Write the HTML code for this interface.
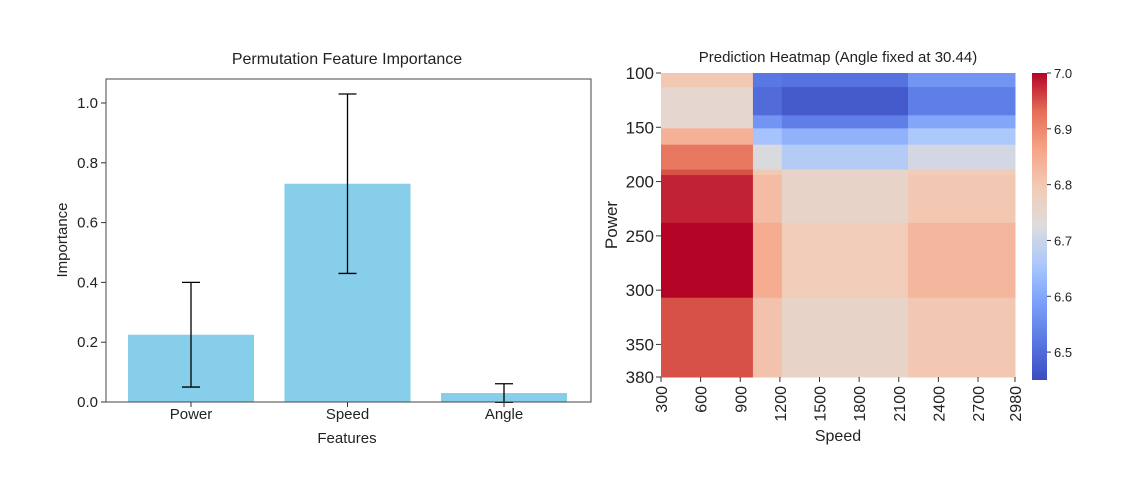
<!DOCTYPE html>
<html><head><meta charset="utf-8"><style>
body{margin:0;background:#fff;}
svg text{font-family:"Liberation Sans","DejaVu Sans",sans-serif;fill:#222;}
</style></head><body>
<svg id="c" width="1122" height="488" xmlns="http://www.w3.org/2000/svg">
<rect width="1122" height="488" fill="#fff"/>
<g id="left"></g>
<g id="right"></g>
</svg>
<script>
const features=["Power","Speed","Angle"];
const importance=[0.225,0.73,0.03];
const errors=[0.175,0.30,0.031];
const yTicks=[0.0,0.2,0.4,0.6,0.8,1.0];

const speedEdges=[300,996,1215,2170,2980];
const powerEdges=[100,113,139,151,166,189,194,238,307,380];
const heatValues=[
 [6.80,6.52,6.51,6.57],
 [6.75,6.50,6.47,6.53],
 [6.75,6.57,6.53,6.60],
 [6.84,6.65,6.62,6.66],
 [6.92,6.72,6.67,6.71],
 [6.95,6.80,6.76,6.79],
 [6.98,6.82,6.76,6.80],
 [7.00,6.85,6.79,6.83],
 [6.95,6.81,6.76,6.80]
];
const speedTicks=[300,600,900,1200,1500,1800,2100,2400,2700,2980];
const powerTicks=[100,150,200,250,300,350,380];
const cbTicks=[6.5,6.6,6.7,6.8,6.9,7.0];

const NS="http://www.w3.org/2000/svg";
function mk(p,t,a,txt){const e=document.createElementNS(NS,t);for(const k in a)e.setAttribute(k,a[k]);if(txt!==undefined)e.textContent=txt;p.appendChild(e);return e;}

// left chart
const L=document.getElementById('left');
const ax={x0:106,x1:591,y0:402,yTop:79};
const ys=v=>ax.y0-v*299;
const xs=i=>191+i*156.5;
let e;
yTicks.forEach(t=>{
 e=mk(L,'line',{x1:ax.x0-5,x2:ax.x0,y1:ys(t),y2:ys(t),stroke:'#333'});
 
 
 e=mk(L,'text',{x:ax.x0-8,y:ys(t)+5,'text-anchor':'end','font-size':15},t.toFixed(1));
 
 
});
features.forEach((f,i)=>{
 e=mk(L,'rect',{x:xs(i)-63,y:ys(importance[i]),width:126,height:ax.y0-ys(importance[i]),fill:'#87ceeb'});
 
 
 const lo=ys(importance[i]-errors[i]),hi=ys(importance[i]+errors[i]);
 e=mk(L,'g',{stroke:'#000','stroke-width':1.3});
 
 
 mk(e,'line',{x1:xs(i),x2:xs(i),y1:lo,y2:hi});
 mk(e,'line',{x1:xs(i)-9,x2:xs(i)+9,y1:lo,y2:lo});
 mk(e,'line',{x1:xs(i)-9,x2:xs(i)+9,y1:hi,y2:hi});
 e=mk(L,'line',{x1:xs(i),x2:xs(i),y1:ax.y0,y2:ax.y0+5,stroke:'#333'});
 
 
 e=mk(L,'text',{x:xs(i),y:419,'text-anchor':'middle','font-size':15},f);
 
 
});
e=mk(L,'rect',{x:ax.x0,y:ax.yTop,width:ax.x1-ax.x0,height:ax.y0-ax.yTop,fill:'none',stroke:'#444'});


e=mk(L,'text',{x:347,y:64,'text-anchor':'middle','font-size':16},'Permutation Feature Importance');


e=mk(L,'text',{x:347,y:443,'text-anchor':'middle','font-size':15},'Features');


e=mk(L,'text',{x:0,y:0,'text-anchor':'middle','font-size':15,transform:'translate(67,240) rotate(-90)'},'Importance');



// heatmap
const R=document.getElementById('right');
const hx=s=>661+(s-300)*(1015-661)/(2980-300);
const hy=p=>73+(p-100)*(377-73)/(380-100);
const stops=[[0,[59,76,192]],[0.125,[89,119,227]],[0.25,[123,159,249]],[0.375,[170,199,253]],[0.5,[221,220,220]],[0.625,[242,203,183]],[0.75,[246,165,135]],[0.875,[228,110,86]],[1,[180,4,38]]];
function cmap(v){let t=(v-6.45)/(7.0-6.45);t=Math.max(0,Math.min(1,t));
 for(let i=1;i<stops.length;i++){if(t<=stops[i][0]){const a=stops[i-1],b=stops[i];const f=(t-a[0])/(b[0]-a[0]);
 const c=a[1].map((x,k)=>Math.round(x+(b[1][k]-x)*f));return `rgb(${c})`;}}return 'rgb(180,4,38)';}
heatValues.forEach((row,r)=>row.forEach((v,c)=>{
 e=mk(R,'rect',{x:hx(speedEdges[c]),y:hy(powerEdges[r]),width:hx(speedEdges[c+1])-hx(speedEdges[c])+0.5,height:hy(powerEdges[r+1])-hy(powerEdges[r])+0.5,fill:cmap(v)});
 
 
}));
speedTicks.forEach(s=>{
 e=mk(R,'line',{x1:hx(s),x2:hx(s),y1:377,y2:382,stroke:'#333'});
 
 
 e=mk(R,'text',{x:0,y:0,'text-anchor':'end','font-size':16,transform:`translate(${hx(s)+6},386) rotate(-90)`},String(s));
 
 
});
powerTicks.forEach(p=>{
 e=mk(R,'line',{x1:656,x2:661,y1:hy(p),y2:hy(p),stroke:'#333'});
 
 
 e=mk(R,'text',{x:654,y:hy(p)+6,'text-anchor':'end','font-size':17},String(p));
 
 
});
e=mk(R,'text',{x:838,y:62,'text-anchor':'middle','font-size':15},'Prediction Heatmap (Angle fixed at 30.44)');


e=mk(R,'text',{x:838,y:441,'text-anchor':'middle','font-size':16},'Speed');


e=mk(R,'text',{x:0,y:0,'text-anchor':'middle','font-size':17,transform:'translate(617,225) rotate(-90)'},'Power');


// colorbar
const cy=v=>73+(7.0-v)*(380-73)/(7.0-6.45);
const defs=mk(R,'defs',{});
const lg=mk(defs,'linearGradient',{id:'cb',x1:0,y1:1,x2:0,y2:0});
stops.forEach(s=>mk(lg,'stop',{offset:s[0],'stop-color':`rgb(${s[1]})`}));
e=mk(R,'rect',{x:1032,y:73,width:15,height:307,fill:'url(#cb)'});


cbTicks.forEach(t=>{
 e=mk(R,'line',{x1:1047,x2:1051,y1:cy(t),y2:cy(t),stroke:'#333'});
 
 
 e=mk(R,'text',{x:1054,y:cy(t)+5,'font-size':13},t.toFixed(1));
 
 
});
</script>
</body></html>
